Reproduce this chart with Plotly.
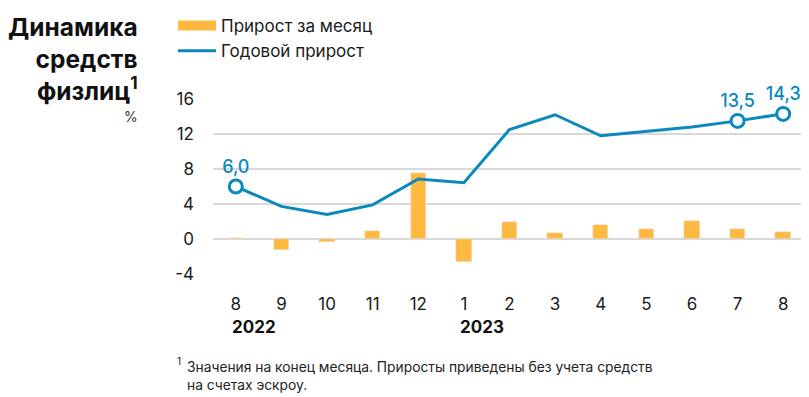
import plotly.graph_objects as go

months = ["8", "9", "10", "11", "12", "1", "2", "3", "4", "5", "6", "7", "8"]
monthly_growth = [0.1, -1.3, -0.3, 0.95, 7.5, -2.65, 2.0, 0.72, 1.63, 1.18, 2.1, 1.1, 0.75]
annual_growth = [6.0, 3.73, 2.8, 3.9, 6.86, 6.43, 12.5, 14.2, 11.8, 12.3, 12.8, 13.5, 14.3]
highlight_idx = [0, 11, 12]
years = ["2022", "2023"]
year_start_idx = [0, 5]
y_ticks = [-4, 0, 4, 8, 12, 16]
y_ticktext = ["-4", "0", "4", "8", "12", "16"]

ORANGE = "#FFB940"
BLUE = "#0A89BE"
FONT = "Inter"

x = list(range(len(months)))

fig = go.Figure()
fig.add_trace(go.Bar(x=x, y=monthly_growth, marker_color=ORANGE, width=0.34,
                     showlegend=False, hoverinfo="skip"))
fig.add_trace(go.Scatter(x=x, y=annual_growth, mode="lines",
                         line=dict(color=BLUE, width=3), showlegend=False, cliponaxis=False))
hx = [x[i] for i in highlight_idx]
hy = [annual_growth[i] for i in highlight_idx]
fig.add_trace(go.Scatter(x=hx, y=hy, mode="markers+text",
                         marker=dict(size=13, color="white", line=dict(color=BLUE, width=3)),
                         text=[f"{v:.1f}".replace(".", ",") for v in hy],
                         textposition="top center",
                         textfont=dict(color=BLUE, size=18, family=FONT, weight=500),
                         showlegend=False, cliponaxis=False))
# legend entries
fig.add_trace(go.Scatter(x=[None], y=[None], mode="lines", name="Прирост за месяц",
                         line=dict(color=ORANGE, width=10)))
fig.add_trace(go.Scatter(x=[None], y=[None], mode="lines", name="Годовой прирост",
                         line=dict(color=BLUE, width=3)))

# page has an 8px body margin: figure is 801x389 placed at (8, 8)
fig.update_layout(
    width=801, height=389,
    margin=dict(l=205, r=3, t=91, b=123, autoexpand=False),
    paper_bgcolor="white", plot_bgcolor="white",
    font=dict(family=FONT, color="#1a1a1a", size=17),
    bargap=0,
    legend=dict(xref="container", yref="container", x=0.206, y=1.01,
                xanchor="left", yanchor="top", orientation="v",
                font=dict(size=17, family=FONT), itemwidth=38,
                tracegroupgap=0, bgcolor="rgba(0,0,0,0)"),
    xaxis=dict(tickmode="array", tickvals=x, ticktext=months, range=[-0.5, 12.5],
               showgrid=False, zeroline=False, showline=False, ticks="",
               ticklabelstandoff=18, tickfont=dict(size=17)),
    yaxis=dict(range=[-4, 16], tickmode="array", tickvals=y_ticks, ticktext=y_ticktext,
               showgrid=True, gridcolor="#d9d9d9", gridwidth=1.5,
               zeroline=True, zerolinecolor="#d9d9d9", zerolinewidth=1.5,
               showline=False, ticks="", ticklabelstandoff=18,
               tickfont=dict(size=17)),
)

fig.add_annotation(xref="paper", yref="paper", x=-0.123, y=1.51, xanchor="right", yanchor="top",
                   text="<b>Динамика<br>средств<br>физлиц<sup>1</sup></b>", align="right",
                   showarrow=False, font=dict(size=24.5, family=FONT, color="#111"))
fig.add_annotation(xref="paper", yref="paper", x=-0.123, y=0.901, xanchor="right", yanchor="middle",
                   text="%", showarrow=False, font=dict(size=14, family=FONT, color="#333"))

for yr, idx in zip(years, year_start_idx):
    fig.add_annotation(xref="x", yref="paper", x=x[idx], y=-0.301, xanchor="left", yanchor="middle",
                       xshift=-6, text=f"<b>{yr}</b>", showarrow=False,
                       font=dict(size=17, family=FONT, color="#111"))

fig.add_annotation(xref="paper", yref="paper", x=(175 - 213) / 593, y=(274.3 - 361) / 175,
                   xanchor="left", yanchor="middle", text="1", showarrow=False,
                   font=dict(size=10, family=FONT, color="#222"))
fig.add_annotation(xref="paper", yref="paper", x=(185 - 213) / 593, y=(274.3 - 357) / 175,
                   xanchor="left", yanchor="top", align="left",
                   text="Значения на конец месяца. Приросты приведены без учета средств<br>на счетах эскроу.",
                   showarrow=False, font=dict(size=13.8, family=FONT, color="#222"))

fig.write_html("out.html")
